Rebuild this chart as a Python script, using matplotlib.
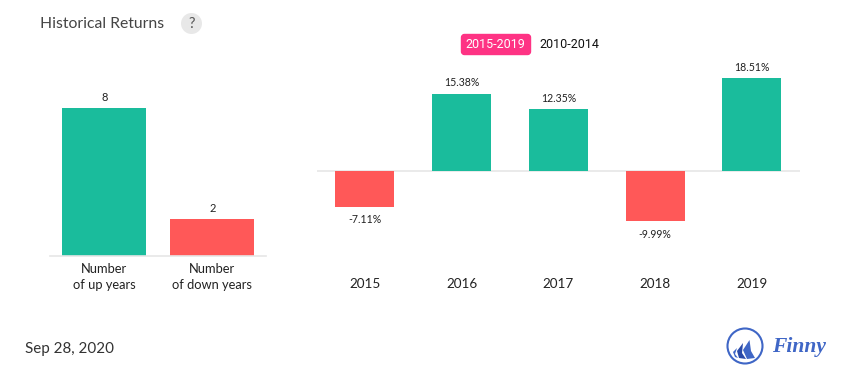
import matplotlib
matplotlib.use("Agg")
import matplotlib.pyplot as plt
from matplotlib.patches import Circle, FancyBboxPatch, Polygon

W, H = 855, 382
GREEN = "#1abc9c"
RED = "#ff5858"
AXIS = "#e6e6e6"

count_labels = ["Number\nof up years", "Number\nof down years"]
count_values = [8, 2]

years = ["2015", "2016", "2017", "2018", "2019"]
returns = [-7.11, 15.38, 12.35, -9.99, 18.51]

plt.rcParams["font.family"] = ["Lato", "DejaVu Sans"]


def px_axes(fig, left, top, right, bottom):
    # axes placed by pixel box, y measured from the top of the image
    return fig.add_axes([left / W, 1 - bottom / H, (right - left) / W, (bottom - top) / H])


def bar_colors(values):
    return [GREEN if v >= 0 else RED for v in values]


fig = plt.figure(figsize=(W / 100, H / 100), dpi=100)

# left chart: up and down years
ax1 = px_axes(fig, 50.3, 108.3, 266.3, 255.5)
ax1.bar(range(2), count_values, width=0.778, color=[GREEN, RED], zorder=2)
ax1.set_xlim(-0.5, 1.5)
ax1.set_ylim(0, 8)
ax1.set_yticks([])
ax1.set_xticks(range(2), count_labels)
ax1.tick_params(axis="x", length=0, pad=5.5, labelsize=9.3, labelcolor="#222222")
for lab in ax1.get_xticklabels():
    lab.set_linespacing(1.35)
for s in ["top", "left", "right"]:
    ax1.spines[s].set_visible(False)
ax1.spines["bottom"].set_color(AXIS)
ax1.spines["bottom"].set_linewidth(1.2)
for i, v in enumerate(count_values):
    ax1.annotate(str(v), (i, v), xytext=(0, 3.5), textcoords="offset points",
                 ha="center", va="bottom", fontsize=8, color="#222222",
                 annotation_clip=False)

# right chart: yearly returns
ax2 = px_axes(fig, 316.6, 78.2, 800.1, 221.2)
ax2.bar(range(5), returns, width=0.61, color=bar_colors(returns), zorder=2)
ax2.set_xlim(-0.5, 4.5)
ax2.set_ylim(min(returns), max(returns))
ax2.axhline(0, color=AXIS, lw=1.2, zorder=1)
ax2.set_yticks([])
ax2.set_xticks(range(5), years)
ax2.tick_params(axis="x", length=0, pad=0, labelsize=9.7, labelcolor="#222222")
for lab in ax2.get_xticklabels():
    lab.set_y(-0.40)
ax2.patch.set_visible(False)
for s in ax2.spines.values():
    s.set_visible(False)
for i, v in enumerate(returns):
    off = 4 if v >= 0 else -5.5
    ax2.annotate(f"{v:.2f}%", (i, v), xytext=(0, off), textcoords="offset points",
                 ha="center", va="bottom" if v >= 0 else "top", fontsize=7.6,
                 color="#222222", annotation_clip=False)

# overlay in image pixels for the page furniture
ov = fig.add_axes([0, 0, 1, 1], zorder=5)
ov.set_xlim(0, W)
ov.set_ylim(H, 0)
ov.axis("off")
ov.patch.set_visible(False)

ov.text(40, 23.5, "Historical Returns", fontsize=11.3, color="#444444", va="center")
ov.add_patch(Circle((191.5, 23.5), 10.5, color="#e8e8e8", lw=0))
ov.text(191.5, 24, "?", fontsize=10.5, color="#555555", ha="center", va="center")

ov.add_patch(FancyBboxPatch((461.5, 34.5), 69, 20, boxstyle="round,pad=0,rounding_size=3",
                            fc="#fe3384", ec="#fe3384", lw=1))
ov.text(495.5, 45, "2015-2019", fontsize=9, color="white", ha="center", va="center",
        family="Roboto")
ov.text(569.5, 45, "2010-2014", fontsize=9, color="#111111", ha="center", va="center",
        family="Roboto")

ov.text(25, 348.5, "Sep 28, 2020", fontsize=10.9, color="#333333", va="center")

# Finny logo
BLUE = "#3f66c6"
ov.add_patch(Circle((745, 346), 17.5, fc="white", ec=BLUE, lw=1.5))
ov.add_patch(Polygon([(749.5, 340), (751, 351), (755, 358), (747, 359), (743, 350)], color=BLUE, lw=0))
ov.add_patch(Polygon([(743, 343), (742, 353), (746, 359), (739, 358), (737, 351)], color="#2a4aa8", lw=0))
ov.add_patch(Polygon([(737, 348), (735, 354), (738, 358), (735, 357), (733, 352)], color=BLUE, lw=0))
ov.text(772, 347, "Finny", fontsize=15.5, color=BLUE, va="center", style="italic",
        weight="bold", family="Liberation Serif")

fig.savefig("out.png", dpi=100, facecolor="white")
